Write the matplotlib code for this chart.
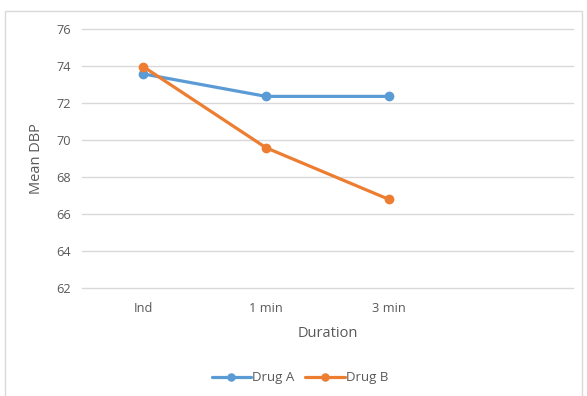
import matplotlib
matplotlib.use("Agg")
import matplotlib.pyplot as plt
from matplotlib.patches import Rectangle

plt.rcParams['font.family'] = ['Open Sans', 'DejaVu Sans']

categories = ["Ind", "1 min", "3 min", ""]
drug_a = [73.56, 72.35, 72.35]
drug_b = [73.95, 69.58, 66.8]
y_ticks = [62, 64, 66, 68, 70, 72, 74, 76]

BLUE = "#5B9BD5"
ORANGE = "#ED7D31"
TEXT = "#595959"
GRID = "#D9D9D9"

fig = plt.figure(figsize=(5.87, 3.96), dpi=100)
W, H = 587, 396

# chart frame (its lower edge runs past the bottom of the figure)
fig.patches.append(Rectangle((5 / W, -10 / H), 577 / W, 395 / H, transform=fig.transFigure,
                             fill=False, edgecolor="#D9D9D9", linewidth=1.0))

left, right, top, bottom = 82, 572.7, 28.7, 288.3
ax = fig.add_axes([left / W, 1 - bottom / H, (right - left) / W, (bottom - top) / H])

x = list(range(len(categories)))
ax.plot(x[:len(drug_a)], drug_a, color=BLUE, linewidth=2.3, marker="o", markersize=6,
        label="Drug A", solid_capstyle="round")
ax.plot(x[:len(drug_b)], drug_b, color=ORANGE, linewidth=2.3, marker="o", markersize=6,
        label="Drug B", solid_capstyle="round")

ax.set_xlim(-0.5, len(categories) - 0.5)
ax.set_ylim(62, 76)
ax.set_yticks(y_ticks)
ax.set_xticks(x)
ax.set_xticklabels(categories)
ax.yaxis.grid(True, color=GRID, linewidth=1.0)
for gl in ax.get_ygridlines():
    gl.set_clip_on(False)
ax.set_axisbelow(True)
for s in ax.spines.values():
    s.set_visible(False)
ax.tick_params(axis="both", length=0, labelsize=9.2, colors=TEXT, pad=8)
ax.tick_params(axis="x", pad=10)

ax.set_xlabel("Duration", fontsize=10.5, color=TEXT, labelpad=8)
ax.set_ylabel("Mean DBP", fontsize=10.5, color=TEXT, labelpad=9)

leg = fig.legend(loc="center", bbox_to_anchor=(300 / W, 1 - 378 / H), ncol=2, frameon=False,
                 fontsize=9.5, handlelength=3.0, columnspacing=0.8, handletextpad=0.1,
                 markerscale=0.85)
for t in leg.get_texts():
    t.set_color(TEXT)

fig.savefig("out.png", dpi=100)
